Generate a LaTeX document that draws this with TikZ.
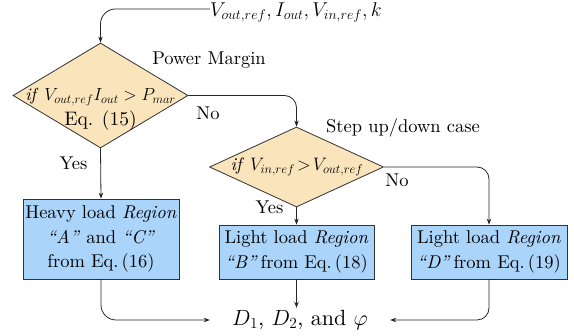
\documentclass[tikz,border=0pt]{standalone}
\usepackage{fix-cm}
\usepackage{fontspec}
\setmainfont{lmroman10-regular.otf}[ItalicFont=lmroman10-italic.otf,BoldFont=lmroman10-bold.otf]
\usetikzlibrary{shapes.geometric,arrows.meta}
\definecolor{boxblue}{RGB}{170,212,250}
\definecolor{decfill}{RGB}{250,228,188}
\definecolor{edge}{RGB}{50,50,50}
\begin{document}
\begin{tikzpicture}[x=1pt,y=-1pt,
  every node/.style={font=\fontsize{18.5}{24.5}\selectfont},
  decbox/.style={diamond,draw=edge,fill=decfill,line width=0.8pt,inner sep=0pt},
  procbox/.style={rectangle,draw=edge,fill=boxblue,line width=0.8pt,inner sep=0pt,align=center},
  plain/.style={inner sep=0pt,align=center},
  conn/.style={draw=black!85,line width=0.8pt,-{Stealth[length=6pt,width=4.5pt]}}
]
\useasboundingbox (0,0) rectangle (574,336);
% input
\node[plain,anchor=west,font=\fontsize{20}{24}\selectfont] (topt) at (210,12) {$V_{out,ref},I_{out},V_{in,ref},k$};
\coordinate (tin) at ([yshift=3pt]topt.west);
% decision 1
\node[decbox,minimum width=175pt,minimum height=105pt] (d1) at (100.5,95.5) {};
\node[plain] (d1t) at (100.5,109.5) {{\fontsize{17.5}{24}\selectfont\textit{if} $V_{out,ref}I_{out}>P_{mar}$}\\{\fontsize{19.5}{24}\selectfont Eq. (15)}};
\node[plain] (pm) at (209,60) {Power Margin};
% decision 2
\node[decbox,minimum width=174pt,minimum height=80pt] (d2) at (296.5,167) {};
\node[plain,font=\fontsize{18}{24}\selectfont] (d2t) at (297,167) {\textit{if} $V_{in,ref}\!>\!V_{out,ref}$};
\node[plain] (su) at (403,128) {Step up/down case};
% boxes
\node[procbox,minimum width=156pt,minimum height=80pt] (b1) at (101,239) {Heavy load \textit{Region}\\ \textit{``A''} and \textit{``C''}\\ from Eq.\,(16)};
\node[procbox,minimum width=155pt,minimum height=54pt] (b2) at (296.5,252) {Light load \textit{Region}\\ \textit{``B''}\,from Eq.\,(18)};
\node[procbox,minimum width=156pt,minimum height=54pt] (b3) at (489,252) {Light load \textit{Region}\\ \textit{``D''}\,from Eq.\,(19)};
% output
\node[inner sep=0pt,minimum width=180pt,minimum height=24pt,font=\fontsize{22}{24}\selectfont] (out) at (300,320) {$D_1$, $D_2$, and $\varphi$};
% labels
\node[plain] (no1) at (208,113) {No};
\node[plain] (yes1) at (73.5,163) {Yes};
\node[plain] (no2) at (397,180) {No};
\node[plain] (yes2) at (269.5,207) {Yes};
% connectors
\draw[conn,rounded corners=15pt] (tin) -| (d1.north);
\draw[conn,rounded corners=12pt] (d1.east) -| (d2.north);
\draw[conn] (d1.south) -- (b1.north);
\draw[conn] (d2.south) -- (b2.north);
\draw[conn,rounded corners=12pt] (d2.east) -| (b3.north);
\draw[conn,rounded corners=15pt] (b1.south) |- (out.west);
\draw[conn,rounded corners=12pt] (b3.south) |- (out.east);
\draw[conn] (b2.south) -- (b2.south |- out.north);
\end{tikzpicture}
\end{document}
